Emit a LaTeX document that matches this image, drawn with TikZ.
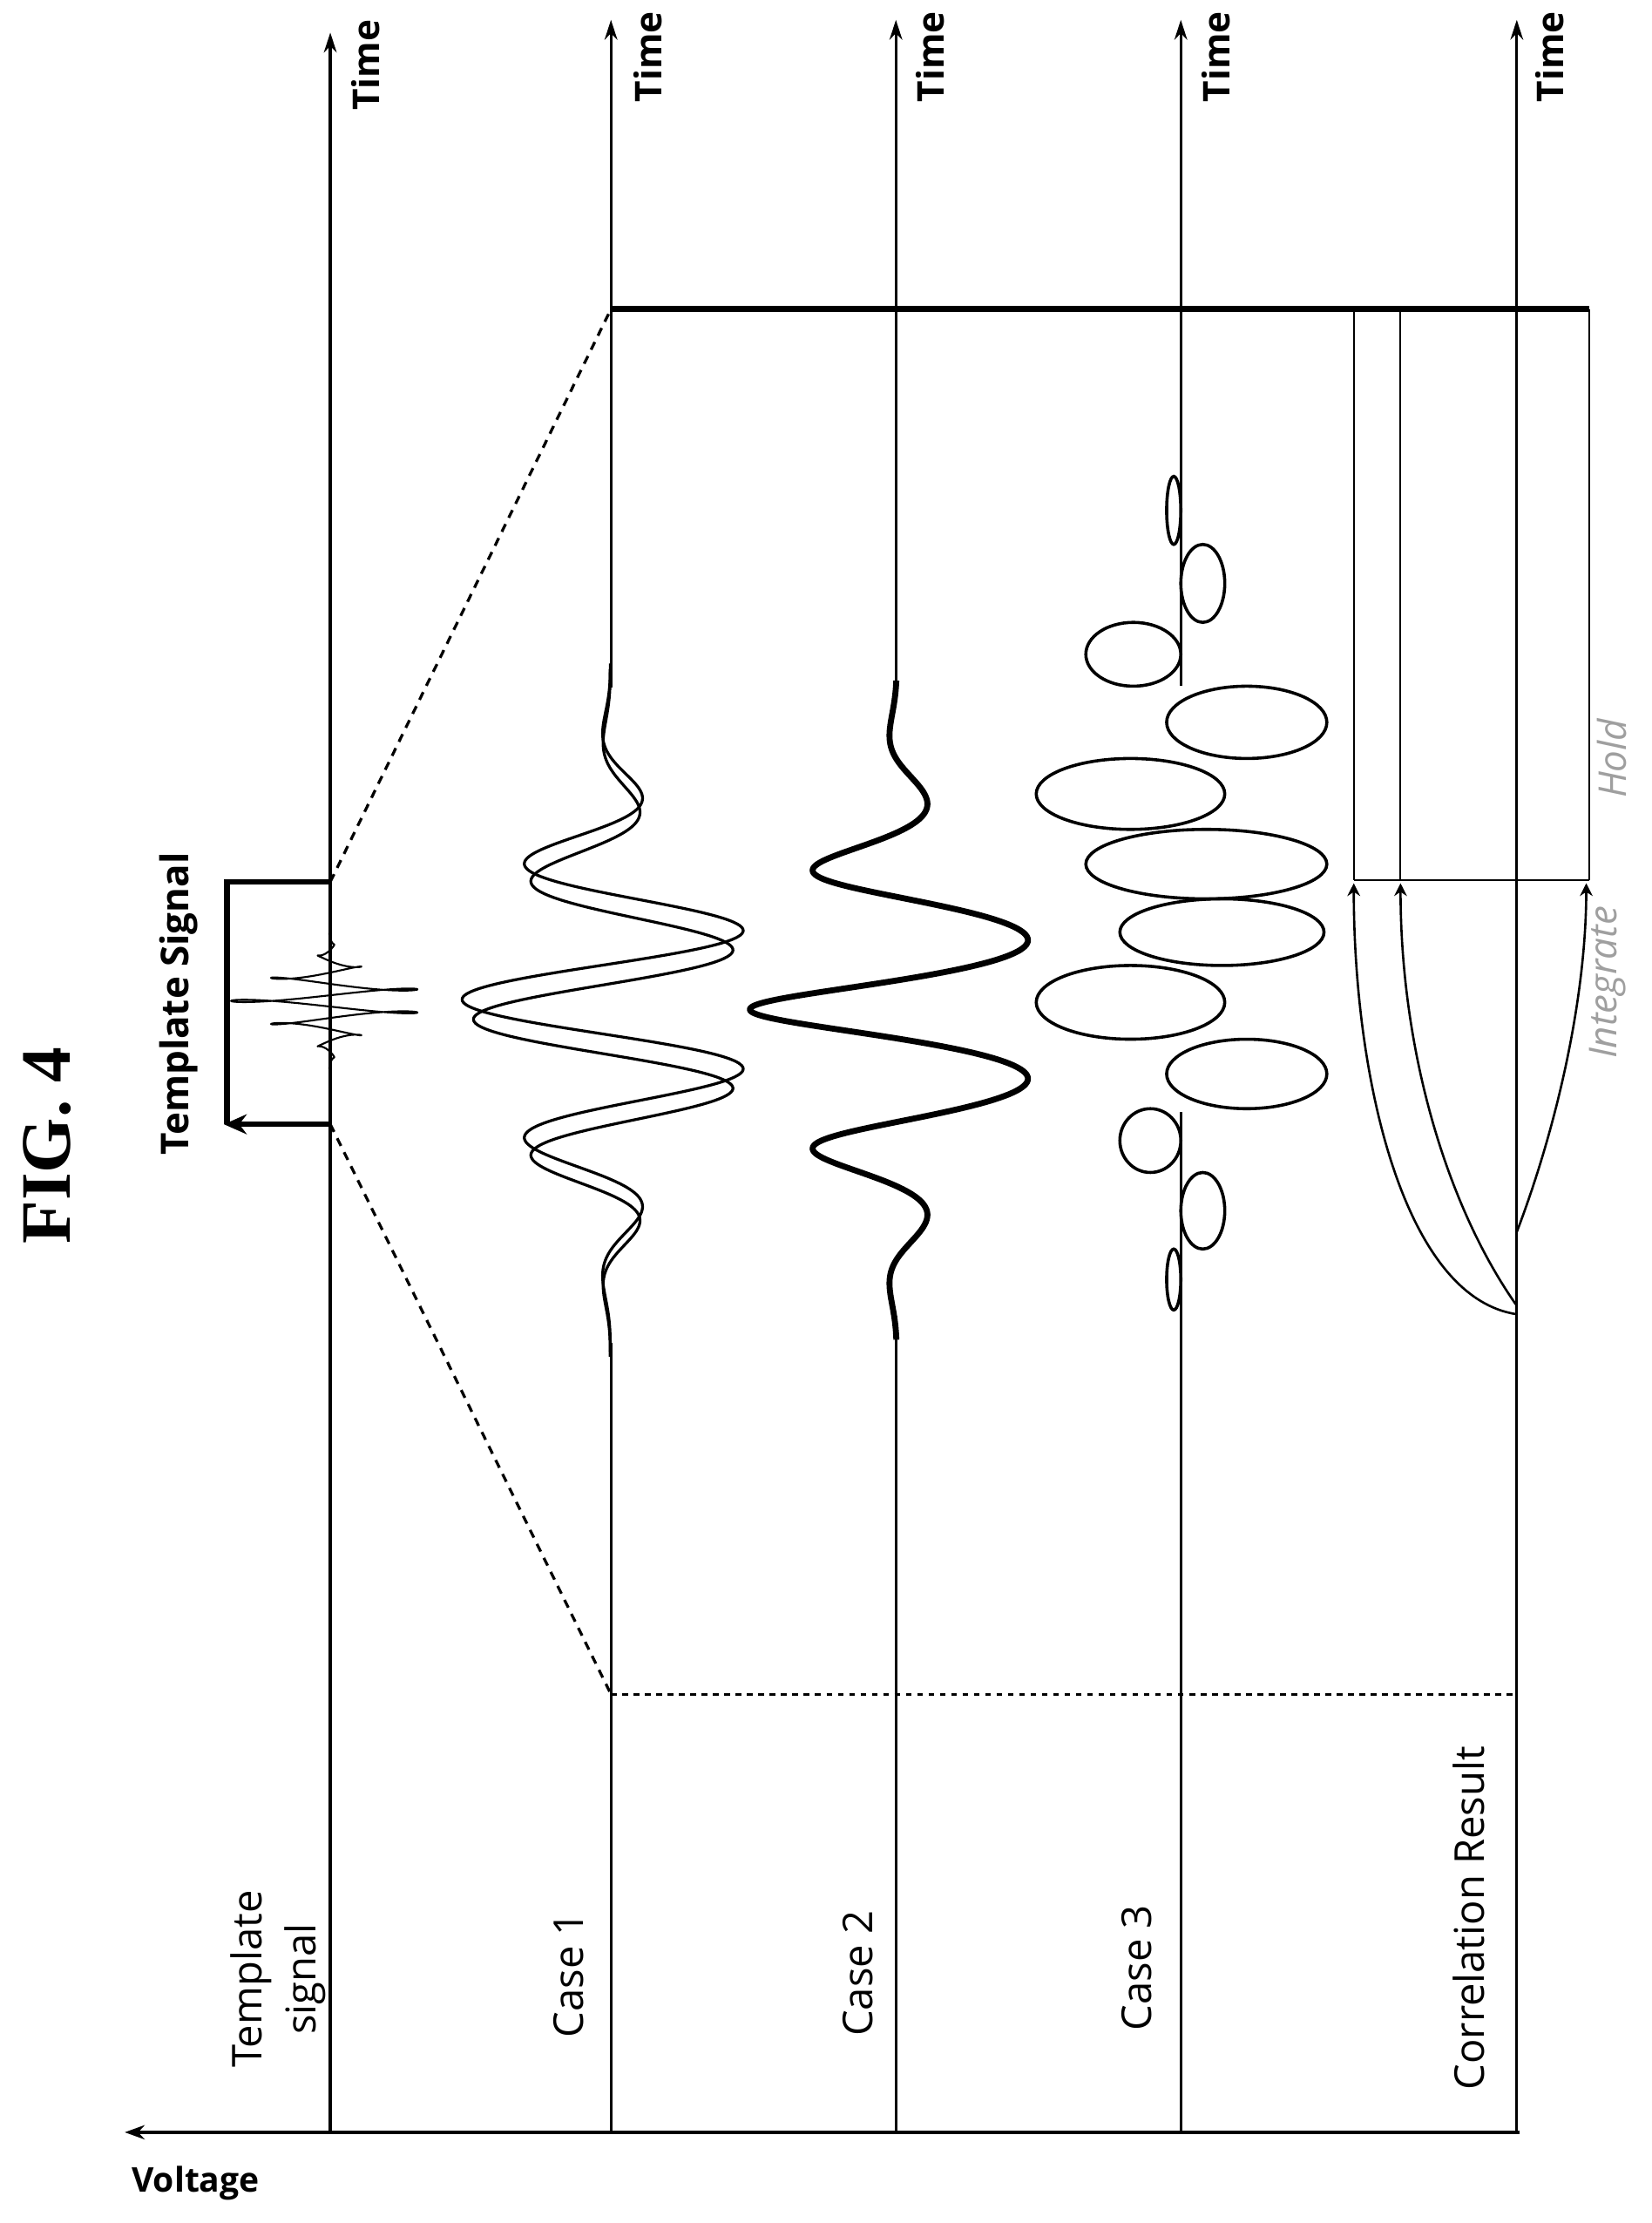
\documentclass[tikz,border=0pt]{standalone}
\usepackage{fontspec}
\setmainfont{Open Sans}
\newfontfamily\figfont{Liberation Serif}
\usetikzlibrary{arrows.meta}
\begin{document}
\begin{tikzpicture}[x=1pt,y=-1pt,
  declare function={gs(\u,\w)=exp(max(-9,0-((\u)/(\w))*((\u)/(\w))));
                    sg(\u,\w)=exp(max(-9,0-pow(min(abs((\u)/(\w)),3)+0.0001,2.5)));},
  axis/.style={line width=2pt,-{Stealth[length=14pt,width=9pt]}},
  base/.style={line width=2.6pt},
  wave/.style={line width=2pt,line join=round},
  thickwave/.style={line width=4.2pt,line join=round},
  lbl/.style={rotate=90,font=\fontsize{29}{33}\selectfont},
  tlbl/.style={rotate=90,font=\fontsize{26}{30}\selectfont\bfseries},
  glbl/.style={rotate=90,font=\fontsize{27}{31}\selectfont\itshape,text=gray!75},
  dsh/.style={line width=2pt,dash pattern=on 6pt off 5pt},
  dot/.style={line width=2pt,dash pattern=on 4pt off 4pt},
  thin/.style={line width=1.3pt},
  uparr/.style={line width=1.6pt,-{Stealth[length=9pt,width=9pt]}}]
\useasboundingbox (0,0) rectangle (1165,1568);
\fill[white] (0,0) rectangle (1165,1568);
% coordinates
\coordinate (vl) at (88,1504);
\coordinate (vr) at (1072,1504);
\coordinate (t0b) at (233,1504); \coordinate (t0t) at (233,23);
\coordinate (t1b) at (431,1504); \coordinate (t1t) at (431,14);
\coordinate (t2b) at (632,1504); \coordinate (t2t) at (632,14);
\coordinate (t3b) at (833,1504); \coordinate (t3t) at (833,14);
\coordinate (t4b) at (1070,1504); \coordinate (t4t) at (1070,14);
% voltage baseline
\draw[base,-{Stealth[length=14pt,width=10pt]}] (vr) -- (vl);
\node[font=\fontsize{24}{28}\selectfont\bfseries] (volt) at (138,1540) {Voltage};
% time axes
\draw[axis] (t0b) -- (t0t);
\draw[line width=2pt] (t1b) -- (431,947); \draw[axis] (431,485) -- (t1t);
\draw[line width=2pt] (t2b) -- (632,928); \draw[axis] (632,489) -- (t2t);
\draw[line width=2pt] (t3b) -- (833,784); \draw[axis] (833,484) -- (t3t);
\draw[axis] (t4b) -- (t4t);
% Time labels
\node[tlbl] (tm0) at (258,46) {Time};
\node[tlbl] (tm1) at (457,40) {Time};
\node[tlbl] (tm2) at (656,40) {Time};
\node[tlbl] (tm3) at (858,40) {Time};
\node[tlbl] (tm4) at (1093,40) {Time};
% row labels
\node[lbl,align=center,font=\fontsize{29}{38}\selectfont] (lt) at (196,1396) {Template\\signal};
\node[lbl] (l1) at (401,1393) {Case 1};
\node[lbl] (l2) at (605,1392) {Case 2};
\node[lbl] (l3) at (802,1388) {Case 3};
\node[lbl] (lc) at (1036,1353) {Correlation Result};
% title
\node[rotate=90,font=\figfont\fontsize{50}{54}\selectfont\bfseries] (fig) at (33,808) {FIG. 4};
% template bracket
\coordinate (bt) at (233,622); \coordinate (bb) at (233,793);
\draw[line width=4pt] (bt) -- (160,622) -- (160,793);
\draw[line width=4pt,-{Stealth[length=16pt,width=14pt]}] (bb) -- (158,793);
\node[rotate=90,font=\fontsize{27}{31}\selectfont\bfseries] (ts) at (126,708) {Template Signal};
\draw[line width=1.3pt,line join=round] plot[domain=652:760,samples=500,variable=\s]
 ({233-70*gs(\s-706,22)*cos((\s-706)/8*180)},{\s-2.5*gs(\s-706,40)*sin((\s-706)/8*360)});
% dashed zoom lines
\coordinate (c1top) at (431,218); \coordinate (c1bot) at (431,1195);
\draw[dsh] (bt) -- (c1top);
\draw[dsh] (bb) -- (c1bot);
\draw[dot] (c1bot) -- (1070,1195);
% top window line and hold box
\coordinate (wr) at (1121,218);
\draw[line width=4pt] (c1top) -- (wr);
\draw[thin] (wr) -- (1121,621);
\draw[thin] (955,218) -- (955,621);
\draw[thin] (988,218) -- (988,621);
\draw[thin] (955,621) -- (1121,621);
% integrate curves
\coordinate (i1) at (1070,927); \coordinate (i2) at (1070,921); \coordinate (i3) at (1070,869);
\draw[uparr] (i1) .. controls (990,915) and (955,760) .. (955,623);
\draw[uparr] (i2) .. controls (1020,850) and (988,740) .. (988,623);
\draw[uparr] (i3) .. controls (1100,790) and (1119,700) .. (1119,623);
\node[glbl] (hold) at (1137,535) {Hold};
\node[glbl] (integ) at (1134,693) {Integrate};
% case 1 (doubled trace)
\draw[wave] plot[domain=470:955,samples=500,variable=\s]
 ({430-104*sg(\s-712,125)*cos((\s-712)/50*180)},{\s-7*sg(\s-712,220)});
\draw[wave] plot[domain=470:955,samples=500,variable=\s]
 ({430-96*sg(\s-712,125)*cos((\s-712)/50*180)},{\s+7*sg(\s-712,220)});
% case 2
\draw[thickwave] plot[domain=480:945,samples=500,variable=\s]
 ({632-103*sg(\s-712,125)*cos((\s-712)/50.5*180)},
  {\s-5*sg(\s-712,125)*sin((\s-712)/50.5*180)});
% case 3 loops
\foreach \xl/\xr/\yt/\yb in {823/833/336/384, 833/864/384/439, 766/833/439/484, 823/936/484/535,
  731/864/535/585, 766/936/585/634, 790/934/634/681, 731/864/681/733, 823/936/733/782,
  790/833/782/827, 833/864/827/881, 823/833/881/924}
  \draw[line width=2.2pt] ({(\xl+\xr)/2},{(\yt+\yb)/2}) ellipse [x radius={(\xr-\xl)/2}, y radius={(\yb-\yt)/2}];
\end{tikzpicture}
\end{document}
